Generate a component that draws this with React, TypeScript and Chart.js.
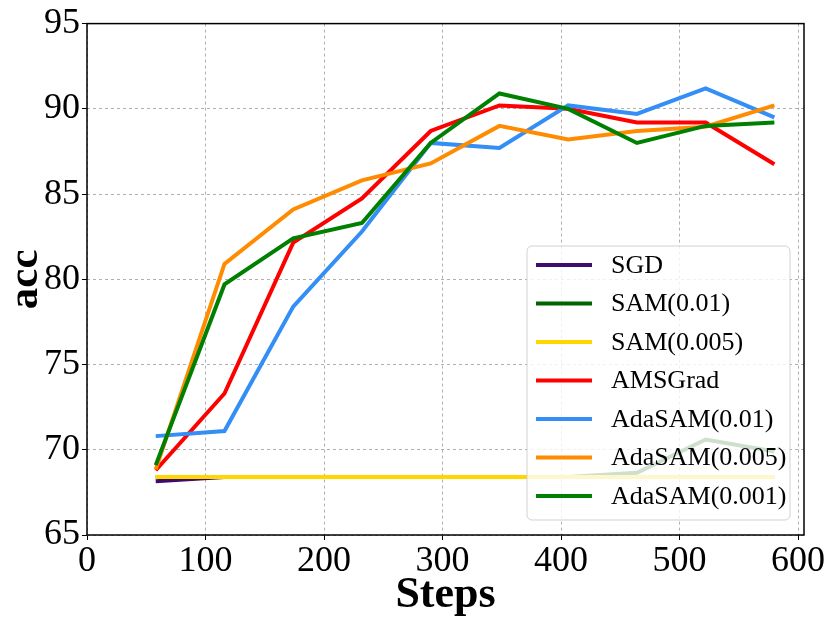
import React, { useEffect, useRef } from 'react';
import { Chart, registerables } from 'chart.js';

Chart.register(...registerables);

// training steps (x) and accuracy per optimiser (y)
const steps = [58, 116, 174, 232, 290, 348, 406, 464, 522, 580];
const sgd = [68.15, 68.4, 68.4, 68.4, 68.4, 68.4, 68.4, 68.4, 68.4, 68.4];
const sam001 = [68.4, 68.4, 68.4, 68.4, 68.4, 68.4, 68.4, 68.65, 70.6, 69.9];
const sam0005 = [68.4, 68.4, 68.4, 68.4, 68.4, 68.4, 68.4, 68.4, 68.4, 68.4];
const amsgrad = [68.8, 73.3, 82.15, 84.75, 88.7, 90.2, 90.0, 89.2, 89.2, 86.75];
const adasam001 = [70.8, 71.1, 78.4, 82.8, 88.0, 87.7, 90.2, 89.7, 91.2, 89.5];
const adasam0005 = [68.85, 80.9, 84.1, 85.8, 86.8, 89.0, 88.2, 88.7, 88.95, 90.2];
const adasam0001 = [69.1, 79.7, 82.4, 83.3, 88.0, 90.9, 90.0, 88.0, 89.0, 89.2];

const seriesLabels = ['SGD', 'SAM(0.01)', 'SAM(0.005)', 'AMSGrad', 'AdaSAM(0.01)', 'AdaSAM(0.005)', 'AdaSAM(0.001)'];
const seriesValues = [sgd, sam001, sam0005, amsgrad, adasam001, adasam0005, adasam0001];
const seriesColors = ['#3f0b6e', '#006400', '#ffd700', '#ff0000', '#338ef5', '#ff8c00', '#008000'];

const xTicks = [0, 100, 200, 300, 400, 500, 600];
const yTicks = [65, 70, 75, 80, 85, 90, 95];

const FONT = '"Liberation Serif", "DejaVu Serif", serif';

// frame around the plot + matplotlib-style legend inside the axes
const frameAndLegend = {
  id: 'frameAndLegend',
  afterDatasetsDraw(chart: Chart) {
    const { ctx, chartArea } = chart;
    ctx.save();
    ctx.strokeStyle = '#000';
    ctx.lineWidth = 1.5;
    ctx.strokeRect(chartArea.left, chartArea.top, chartArea.right - chartArea.left, chartArea.bottom - chartArea.top);

    const w = 263;
    const h = 274;
    const x = chartArea.right - 14 - w;
    const y = chartArea.bottom - 15 - h;
    ctx.beginPath();
    ctx.roundRect(x, y, w, h, 5);
    ctx.fillStyle = 'rgba(255,255,255,0.8)';
    ctx.fill();
    ctx.strokeStyle = 'rgba(204,204,204,0.9)';
    ctx.lineWidth = 1;
    ctx.stroke();

    ctx.font = '26px ' + FONT;
    ctx.textBaseline = 'middle';
    ctx.textAlign = 'left';
    chart.data.datasets.forEach((ds: any, i: number) => {
      const cy = y + 19 + i * 38.5;
      ctx.strokeStyle = ds.borderColor;
      ctx.lineWidth = 4;
      ctx.beginPath();
      ctx.moveTo(x + 9, cy);
      ctx.lineTo(x + 65, cy);
      ctx.stroke();
      ctx.fillStyle = '#000';
      ctx.fillText(ds.label, x + 84, cy + 1);
    });
    ctx.restore();
  },
};

const App: React.FC = () => {
  const canvasRef = useRef<HTMLCanvasElement | null>(null);
  const chartInstance = useRef<Chart | null>(null);

  useEffect(() => {
    document.body.style.margin = '0';
    if (!canvasRef.current) return;
    const ctx = canvasRef.current.getContext('2d');
    if (chartInstance.current) {
      chartInstance.current.destroy();
    }

    chartInstance.current = new Chart(ctx!, {
      type: 'line',
      data: {
        datasets: seriesLabels.map((label, i) => ({
          label,
          data: steps.map((s, j) => ({ x: s, y: seriesValues[i][j] })),
          borderColor: seriesColors[i],
          backgroundColor: seriesColors[i],
          borderWidth: 4,
          pointRadius: 0,
          tension: 0,
          fill: false,
          order: seriesLabels.length - i,
        })),
      },
      options: {
        responsive: true,
        maintainAspectRatio: false,
        animation: false,
        layout: { padding: { top: 20, right: 27, left: 0, bottom: 0 } },
        plugins: { legend: { display: false }, tooltip: { enabled: false } },
        scales: {
          x: {
            type: 'linear',
            min: 0,
            max: 605,
            afterFit: (s: any) => { s.height = 87; },
            afterBuildTicks: (s: any) => { s.ticks = xTicks.map((v) => ({ value: v })); },
            ticks: {
              maxRotation: 0,
              autoSkip: false,
              color: '#000',
              padding: 0,
              font: { family: FONT, size: 36 },
            },
            grid: { color: '#b0b0b0', lineWidth: 1, tickColor: '#000', tickLength: 5, tickWidth: 1 },
            border: { display: false, dash: [3, 3] },
            title: {
              display: true,
              text: 'Steps',
              color: '#000',
              font: { family: FONT, size: 44, weight: 'bold' },
              padding: { top: 0, bottom: 0 },
            },
          },
          y: {
            type: 'linear',
            min: 65,
            max: 95,
            afterFit: (s: any) => { s.width = 87; },
            afterBuildTicks: (s: any) => { s.ticks = yTicks.map((v) => ({ value: v })); },
            ticks: {
              autoSkip: false,
              color: '#000',
              padding: 2,
              font: { family: FONT, size: 36 },
            },
            grid: { color: '#b0b0b0', lineWidth: 1, tickColor: '#000', tickLength: 5, tickWidth: 1 },
            border: { display: false, dash: [3, 3] },
            title: {
              display: true,
              text: 'acc',
              color: '#000',
              font: { family: FONT, size: 43, weight: 'bold' },
              padding: 0,
            },
          },
        },
      },
      plugins: [frameAndLegend],
    });

    return () => {
      if (chartInstance.current) {
        chartInstance.current.destroy();
        chartInstance.current = null;
      }
    };
  }, []);

  return (
    <div style={{ width: 831, height: 622 }}>
      <canvas ref={canvasRef}></canvas>
    </div>
  );
};

export default App;
